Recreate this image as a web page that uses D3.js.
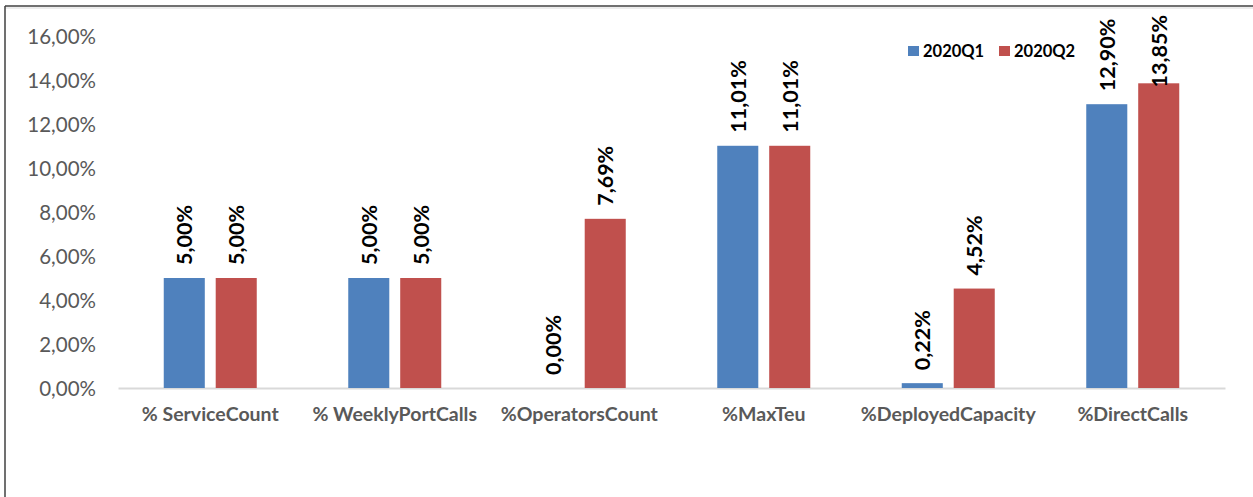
<!DOCTYPE html>
<html>
<head>
<meta charset="utf-8">
<script src="https://cdn.jsdelivr.net/npm/d3@7"></script>
<style>
  html, body { margin: 0; padding: 0; background: #fff; }
  svg { display: block; }
</style>
</head>
<body>
<svg id="chart" width="1253" height="497"></svg>
<script>
const categories = ["% ServiceCount", "% WeeklyPortCalls", "%OperatorsCount", "%MaxTeu", "%DeployedCapacity", "%DirectCalls"];
const seriesNames = ["2020Q1", "2020Q2"];
const q1Values = [5.00, 5.00, 0.00, 11.01, 0.22, 12.90];
const q2Values = [5.00, 5.00, 7.69, 11.01, 4.52, 13.85];
const yTicks = [0, 2, 4, 6, 8, 10, 12, 14, 16];
const colors = ["#4f81bd", "#c0504d"];

const svg = d3.select("#chart");
const W = 1253, H = 497;
const margin = { left: 118, right: 28, top: 36, bottom: 109 };
const fontFam = "Lato, 'Open Sans', sans-serif";

// frame (clipped box)
svg.append("line").attr("x1", 5).attr("x2", W).attr("y1", 6).attr("y2", 6)
  .attr("stroke", "#404040").attr("stroke-width", 1.5);
svg.append("line").attr("x1", 5).attr("x2", W).attr("y1", 8).attr("y2", 8)
  .attr("stroke", "#e6e6e6").attr("stroke-width", 1.5);
svg.append("line").attr("x1", 5).attr("x2", 5).attr("y1", 6).attr("y2", H)
  .attr("stroke", "#404040").attr("stroke-width", 1.5);

const x0 = d3.scaleBand().domain(categories).range([margin.left, W - margin.right]).padding(0);
const y = d3.scaleLinear().domain([0, 16]).range([H - margin.bottom, margin.top]);

const groupW = 93;
const x1 = d3.scaleBand().domain(seriesNames).range([0, groupW]).paddingInner(0.21);

// y axis labels
const yAxis = d3.axisLeft(y).tickValues(yTicks).tickSize(0).tickPadding(0)
  .tickFormat(d => d3.format(".2f")(d).replace(".", ",") + "%");
const yg = svg.append("g").attr("transform", `translate(96,0)`).call(yAxis);
yg.select(".domain").remove();
yg.selectAll("text").attr("font-family", fontFam).attr("font-size", 20.5).attr("fill", "#595959").attr("dy", "0.35em");

// x axis line
const xAxis = d3.axisBottom(x0).tickSize(0).tickPadding(21);
const xg = svg.append("g").attr("transform", `translate(0,${y(0)})`).call(xAxis);
xg.select(".domain").attr("stroke", "#d9d9d9").attr("stroke-width", 2);
xg.selectAll("text").attr("font-family", fontFam).attr("font-size", 19.5).attr("font-weight", "bold")
  .attr("fill", "#595959").attr("dy", "0.6em");

const data = categories.map((c, i) => ({ cat: c, vals: [q1Values[i], q2Values[i]] }));

const groups = svg.append("g").selectAll("g").data(data).join("g")
  .attr("transform", d => `translate(${x0(d.cat) + (x0.bandwidth() - groupW) / 2},0)`);

groups.selectAll("rect").data(d => d.vals.map((v, j) => ({ s: seriesNames[j], v, j })))
  .join("rect")
  .attr("x", d => x1(d.s))
  .attr("width", x1.bandwidth())
  .attr("y", d => y(d.v))
  .attr("height", d => y(0) - y(d.v))
  .attr("fill", d => colors[d.j]);

const lblSize = 21.5;
groups.selectAll("text.lbl").data(d => d.vals.map((v, j) => ({ s: seriesNames[j], v, j })))
  .join("text")
  .attr("class", "lbl")
  .text(d => d3.format(".2f")(d.v).replace(".", ",") + "%")
  .attr("font-family", fontFam).attr("font-size", lblSize).attr("font-weight", "bold").attr("fill", "#000")
  .attr("text-anchor", "start")
  .attr("transform", function(d) {
    const len = this.getComputedTextLength();
    let base = y(d.v) - 13;
    if (base - len < 15) base = 15 + len;
    return `translate(${x1(d.s) + x1.bandwidth() / 2 + 8},${base}) rotate(-90)`;
  });

// legend
const legend = svg.append("g").attr("transform", "translate(908,46)");
const legendX = [0, 91];
seriesNames.forEach((s, i) => {
  legend.append("rect").attr("x", legendX[i]).attr("y", 0).attr("width", 11).attr("height", 10).attr("fill", colors[i]);
  legend.append("text").attr("x", legendX[i] + 15).attr("y", 11)
    .attr("font-family", fontFam).attr("font-size", 16.5).attr("font-weight", "bold").attr("fill", "#000")
    .text(s);
});
</script>
</body>
</html>
